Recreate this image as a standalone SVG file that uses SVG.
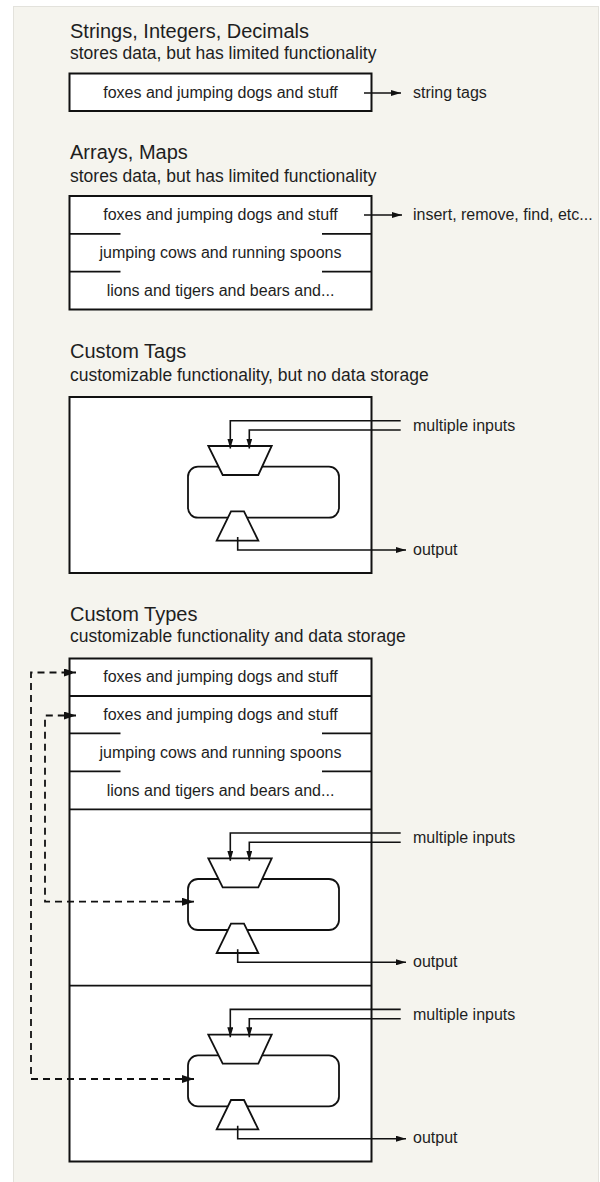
<svg xmlns="http://www.w3.org/2000/svg" width="600" height="1182" viewBox="0 0 600 1182">
<defs>
<style>
.t{font-family:"Liberation Sans",Arial,sans-serif;fill:#1e1e1e}
.h{font-size:20px}
.s{font-size:17.5px}
.b{font-size:16px;text-anchor:middle}
.l{font-size:16px}
.box{fill:#fff;stroke:#111;stroke-width:2}
.div{fill:none;stroke:#111;stroke-width:1.8}
.shape{fill:#fff;stroke:#111;stroke-width:1.8;stroke-linejoin:miter}
.c{fill:none;stroke:#111;stroke-width:1.6}
.d{fill:none;stroke:#111;stroke-width:1.8;stroke-dasharray:7 5}
</style>
<marker id="arr" markerUnits="userSpaceOnUse" markerWidth="10" markerHeight="6" refX="10" refY="3" orient="auto">
<path d="M0,0 L10,3 L0,6 z" fill="#111"/>
</marker>
<marker id="darr" markerUnits="userSpaceOnUse" markerWidth="12" markerHeight="8" refX="12" refY="4" orient="auto-start-reverse">
<path d="M0,0 L12,4 L0,8 z" fill="#111"/>
</marker>
</defs>
<rect x="0" y="0" width="600" height="1182" fill="#fff"/>
<rect x="13.5" y="6.5" width="585" height="1180" fill="#f5f4ee" stroke="#e3e2dc" stroke-width="1"/>

<g id="section-strings">
<text class="t h" x="70" y="37.7">Strings, Integers, Decimals</text>
<text class="t s" x="70" y="59.3">stores data, but has limited functionality</text>
<rect class="box" x="69.5" y="73.5" width="302" height="37.5"/>
<text class="t b" x="220.5" y="97.5">foxes and jumping dogs and stuff</text>
<text class="t l" x="413" y="98">string tags</text>
</g>

<g id="section-arrays">
<text class="t h" x="70" y="159">Arrays, Maps</text>
<text class="t s" x="70" y="181.7">stores data, but has limited functionality</text>
<rect class="box" x="69.5" y="196" width="302" height="113.5"/>
<path class="div" d="M69.5,233.8 H120.5 M322,233.8 H371.5 M69.5,271.7 H120.5 M322,271.7 H371.5"/>
<text class="t b" x="220.5" y="220">foxes and jumping dogs and stuff</text>
<text class="t b" x="220.5" y="258">jumping cows and running spoons</text>
<text class="t b" x="220.5" y="296">lions and tigers and bears and...</text>
<text class="t l" x="413" y="220">insert, remove, find, etc...</text>
</g>

<g id="section-custom-tags">
<text class="t h" x="70" y="358.3">Custom Tags</text>
<text class="t s" x="70" y="380.7">customizable functionality, but no data storage</text>
<rect class="box" x="69.5" y="397" width="302" height="176"/>
</g>

<g id="fn-tags">
<rect class="shape" x="188" y="466.7" width="151" height="51" rx="10"/>
<polygon class="shape" points="208.3,446 271.7,446 258.3,475 222.7,475"/>
<polygon class="shape" points="231,511.3 244,511.3 258.3,540.7 216.7,540.7"/>
<text class="t l" x="413" y="431">multiple inputs</text>
<text class="t l" x="413" y="554.5">output</text>
</g>

<g id="section-custom-types">
<text class="t h" x="70" y="620.7">Custom Types</text>
<text class="t s" x="70" y="641.7">customizable functionality and data storage</text>
<rect class="box" x="69.5" y="658.5" width="302" height="503"/>
<path class="div" d="M69.5,696 H371.5 M69.5,733.3 H120.5 M322,733.3 H371.5 M69.5,771.3 H120.5 M322,771.3 H371.5 M69.5,809.3 H371.5 M69.5,985.7 H371.5"/>
<text class="t b" x="220.5" y="682">foxes and jumping dogs and stuff</text>
<text class="t b" x="220.5" y="720">foxes and jumping dogs and stuff</text>
<text class="t b" x="220.5" y="757.5">jumping cows and running spoons</text>
<text class="t b" x="220.5" y="795.5">lions and tigers and bears and...</text>
</g>

<g id="fn-type-1" transform="translate(0,412.3)">
<rect class="shape" x="188" y="466.7" width="151" height="51" rx="10"/>
<polygon class="shape" points="208.3,446 271.7,446 258.3,475 222.7,475"/>
<polygon class="shape" points="231,511.3 244,511.3 258.3,540.7 216.7,540.7"/>
<text class="t l" x="413" y="431">multiple inputs</text>
<text class="t l" x="413" y="554.5">output</text>
</g>

<g id="fn-type-2" transform="translate(0,588.7)">
<rect class="shape" x="188" y="466.7" width="151" height="51" rx="10"/>
<polygon class="shape" points="208.3,446 271.7,446 258.3,475 222.7,475"/>
<polygon class="shape" points="231,511.3 244,511.3 258.3,540.7 216.7,540.7"/>
<text class="t l" x="413" y="431">multiple inputs</text>
<text class="t l" x="413" y="554.5">output</text>
</g>

<g id="connectors">
<path class="c" d="M364,93 H401" marker-end="url(#arr)"/>
<path class="c" d="M364,215 H402" marker-end="url(#arr)"/>
<g id="io-tags">
<path class="c" d="M400.7,420.7 H230.3 V448.5" marker-end="url(#arr)"/>
<path class="c" d="M400.7,430 H249.3 V448.5" marker-end="url(#arr)"/>
<path class="c" d="M237.7,537 V550 H406" marker-end="url(#arr)"/>
</g>
<g id="io-type-1" transform="translate(0,412.3)">
<path class="c" d="M400.7,420.7 H230.3 V448.5" marker-end="url(#arr)"/>
<path class="c" d="M400.7,430 H249.3 V448.5" marker-end="url(#arr)"/>
<path class="c" d="M237.7,537 V550 H406" marker-end="url(#arr)"/>
</g>
<g id="io-type-2" transform="translate(0,588.7)">
<path class="c" d="M400.7,420.7 H230.3 V448.5" marker-end="url(#arr)"/>
<path class="c" d="M400.7,430 H249.3 V448.5" marker-end="url(#arr)"/>
<path class="c" d="M237.7,537 V550 H406" marker-end="url(#arr)"/>
</g>
<path class="d" d="M194,1079 H31 V672.5 H76" marker-start="url(#darr)" marker-end="url(#darr)"/>
<path class="d" d="M194,901.7 H45 V715.5 H76" marker-start="url(#darr)" marker-end="url(#darr)"/>
</g>
</svg>
